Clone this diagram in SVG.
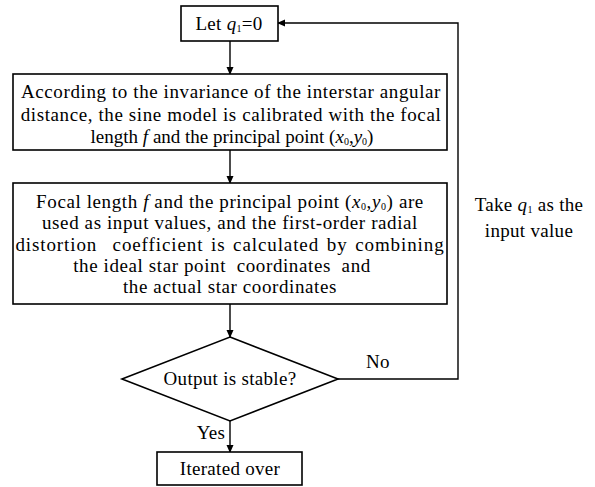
<svg xmlns="http://www.w3.org/2000/svg" width="595" height="487" viewBox="0 0 595 487">
<style>
.b{fill:#fff;stroke:#000;stroke-width:1.6}
.t{font-family:'Liberation Serif','DejaVu Serif',serif;font-size:19px;fill:#000;text-anchor:middle;letter-spacing:0.3px}
.w{letter-spacing:0.6px}
.i{font-style:italic}
.s{font-size:10px}
.c{fill:none;stroke:#000;stroke-width:1.4}
</style>
<defs>
<marker id="a" markerWidth="8" markerHeight="8" refX="7" refY="4" orient="auto" markerUnits="userSpaceOnUse">
<path d="M0,0.5 L8,4 L0,7.5 z" fill="#000"/>
</marker>
</defs>
<rect width="595" height="487" fill="#fff"/>
<g id="connectors">
<line class="c" x1="230" y1="41" x2="230" y2="74" marker-end="url(#a)"/>
<line class="c" x1="230" y1="150" x2="230" y2="183" marker-end="url(#a)"/>
<line class="c" x1="230" y1="304" x2="230" y2="337" marker-end="url(#a)"/>
<line class="c" x1="230" y1="421" x2="230" y2="452" marker-end="url(#a)"/>
<polyline class="c" points="338,379 458,379 458,23 278,23" marker-end="url(#a)"/>
<text class="t" x="378" y="368">No</text>
<text class="t" x="211" y="439">Yes</text>
<text class="t" x="529" y="211">Take <tspan class="i">q</tspan><tspan class="s" dy="2">1</tspan><tspan dy="-2"> as the</tspan></text>
<text class="t" x="529" y="237">input value</text>
</g>
<g id="n1">
<rect class="b" x="181" y="6" width="97" height="35"/>
<text class="t" x="229" y="30">Let <tspan class="i">q</tspan><tspan class="s" dy="2">1</tspan><tspan dy="-2">=0</tspan></text>
</g>
<g id="n2">
<rect class="b" x="13" y="74" width="434" height="76"/>
<text class="t w" x="231" y="98">According to the invariance of the interstar angular</text>
<text class="t w" x="231" y="121">distance, the sine model is calibrated with the focal</text>
<text class="t" x="232" y="143" style="letter-spacing:0">length <tspan class="i">f</tspan> and the principal point (<tspan class="i">x</tspan><tspan class="s" dy="2">0</tspan><tspan dy="-2">,</tspan><tspan class="i">y</tspan><tspan class="s" dy="2">0</tspan><tspan dy="-2">)</tspan></text>
</g>
<g id="n3">
<rect class="b" x="13" y="183" width="434" height="121"/>
<text class="t w" x="230" y="208">Focal length <tspan class="i">f</tspan> and the principal point (<tspan class="i">x</tspan><tspan class="s" dy="2">0</tspan><tspan dy="-2">,</tspan><tspan class="i">y</tspan><tspan class="s" dy="2">0</tspan><tspan dy="-2">) are</tspan></text>
<text class="t w" x="230" y="229">used as input values, and the first-order radial</text>
<text class="t w" x="230" y="251" xml:space="preserve" style="letter-spacing:0.9px;word-spacing:2px">distortion  coefficient is calculated by combining</text>
<text class="t w" x="222" y="272" xml:space="preserve">the ideal star point  coordinates  and</text>
<text class="t w" x="230" y="293">the actual star coordinates</text>
</g>
<g id="n4">
<polygon class="b" points="230,337 338,379 230,421 122,379"/>
<text class="t" x="230" y="385">Output is stable?</text>
</g>
<g id="n5">
<rect class="b" x="157" y="452" width="145" height="33"/>
<text class="t" x="230" y="475">Iterated over</text>
</g>
</svg>
